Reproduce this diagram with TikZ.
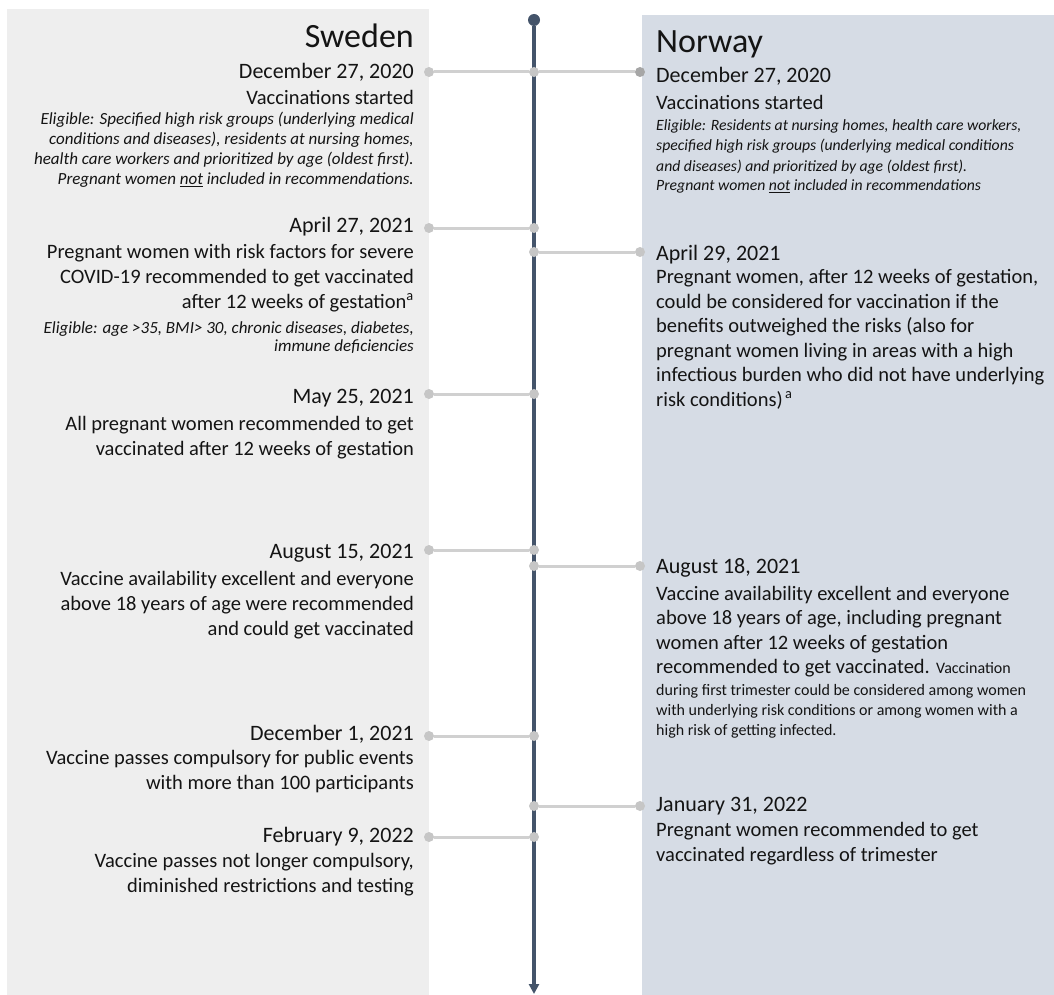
\documentclass[tikz,border=0pt]{standalone}
\usepackage{fontspec}
\setmainfont{Carlito}
\usetikzlibrary{arrows.meta}

\definecolor{swebg}{HTML}{EEEEEE}
\definecolor{norbg}{HTML}{D6DCE5}
\definecolor{lineblue}{HTML}{44546A}
\definecolor{link}{HTML}{D0D0D0}
\definecolor{linkdot}{HTML}{C6C6C6}
\definecolor{firstlink}{HTML}{A6A6A6}
\definecolor{ink}{HTML}{141414}

\newcommand{\titlesize}{\fontsize{34}{40}\selectfont}
\newcommand{\datesize}{\fontsize{22}{26}\selectfont}
\newcommand{\bodysize}{\fontsize{20.5}{25}\selectfont}
\newcommand{\tightbody}{\fontsize{20.5}{24.5}\selectfont}
\newcommand{\swenote}{\fontsize{17}{20}\selectfont\itshape}
\newcommand{\swenotetight}{\fontsize{17}{18}\selectfont\itshape}
\newcommand{\nornote}{\fontsize{15.7}{20}\selectfont\itshape}
\newcommand{\smallnote}{\fontsize{16}{20}\selectfont}

\tikzset{
  tldot/.style={circle,fill=linkdot,inner sep=0pt,minimum size=10pt},
  swe/.style={anchor=base east,align=right,inner sep=0pt,text=ink},
  nor/.style={anchor=base west,align=left,inner sep=0pt,text=ink},
  link/.style={draw=link,line width=3pt},
}

\begin{document}
\begin{tikzpicture}[x=1pt,y=-1pt]

        \useasboundingbox (0,0) rectangle (1054,995);

        % panels
        \fill[swebg] (7,9) rectangle (429,995);
        \fill[norbg] (642,15) rectangle (1054,995);

        % time axis
        \node[circle,fill=lineblue,inner sep=0pt,minimum size=12pt] (top) at (534,20) {};
        \coordinate (bottom) at (534,994);
        \draw[lineblue,line width=3.5pt,-{Triangle[length=10pt,width=10pt]}] (top) -- (bottom);

        \begin{scope}[every node/.style={tldot}]
          \node (s1) at (429,72)  {};
          \node (s2) at (429,228) {};
          \node (s3) at (429,394) {};
          \node (s4) at (429,550) {};
          \node (s5) at (429,736) {};
          \node (s6) at (429,837) {};
          \node (t1) at (534,72)  {};
          \node (t2) at (534,228) {};
          \node (t3) at (534,394) {};
          \node (t4) at (534,550) {};
          \node (t5) at (534,736) {};
          \node (t6) at (534,837) {};
          \node (u2) at (534,252) {};
          \node (u3) at (534,566) {};
          \node (u4) at (534,806) {};
          \node[fill=firstlink] (n1) at (640,72) {};
          \node (n2) at (640,252) {};
          \node (n3) at (640,566) {};
          \node (n4) at (640,806) {};
        \end{scope}

        \begin{scope}[every path/.style={link}]
          \path (s1) edge (t1);
          \path (s2) edge (t2);
          \path (s3) edge (t3);
          \path (s4) edge (t4);
          \path (s5) edge (t5);
          \path (s6) edge (t6);
          \path[draw=firstlink] (t1) edge (n1);
          \path (u2) edge (n2);
          \path (u3) edge (n3);
          \path (u4) edge (n4);
        \end{scope}

        % Sweden (multi-line texts sit on the baseline of their last line)
        \node[swe,font=\titlesize] (sweden) at (414,48) {Sweden};
        \node[swe,font=\datesize] (sdate1) at (414,79) {December 27, 2020};
        \node[swe,font=\bodysize] (stext1) at (414,105) {Vaccinations started};
        \node[swe,font=\swenote] (snote1) at (414,185) {Eligible: Specified high risk groups (underlying medical\\
          conditions and diseases), residents at nursing homes,\\
          health care workers and prioritized by age (oldest first).\\
          Pregnant women \underline{not} included in recommendations.};
        \node[swe,font=\datesize] (sdate2) at (414,233) {April 27, 2021};
        \node[swe,font=\bodysize] (stext2) at (414,308) {Pregnant women with risk factors for severe\\
          COVID-19 recommended to get vaccinated\\
          after 12 weeks of gestation\textsuperscript{a}};
        \node[swe,font=\swenotetight] (snote2) at (414,351) {Eligible: age >35, BMI> 30, chronic diseases, diabetes,\\
          immune deficiencies};
        \node[swe,font=\datesize] (sdate3) at (414,403) {May 25, 2021};
        \node[swe,font=\bodysize] (stext3) at (414,455) {All pregnant women recommended to get\\
          vaccinated after 12 weeks of gestation};
        \node[swe,font=\datesize] (sdate4) at (414,558) {August 15, 2021};
        \node[swe,font=\bodysize] (stext4) at (414,635) {Vaccine availability excellent and everyone\\
          above 18 years of age were recommended\\
          and could get vaccinated};
        \node[swe,font=\datesize] (sdate5) at (414,740) {December 1, 2021};
        \node[swe,font=\bodysize] (stext5) at (414,789) {Vaccine passes compulsory for public events\\
          with more than 100 participants};
        \node[swe,font=\datesize] (sdate6) at (414,842) {February 9, 2022};
        \node[swe,font=\bodysize] (stext6) at (414,892) {Vaccine passes not longer compulsory,\\
          diminished restrictions and testing};

        % Norway
        \node[nor,font=\titlesize] (norway) at (656,53) {Norway};
        \node[nor,font=\datesize] (ndate1) at (656,83) {December 27, 2020};
        \node[nor,font=\bodysize] (ntext1) at (656,110) {Vaccinations started};
        \node[nor,font=\nornote] (nnote1) at (656,191) {Eligible: Residents at nursing homes, health care workers,\\
          specified high risk groups (underlying medical conditions\\
          and diseases) and prioritized by age (oldest first).\\
          Pregnant women \underline{not} included in recommendations};
        \node[nor,font=\datesize] (ndate2) at (656,260) {April 29, 2021};
        \node[nor,font=\tightbody] (ntext2) at (656,406) {Pregnant women, after 12 weeks of gestation,\\
          could be considered for vaccination if the\\
          benefits outweighed the risks (also for\\
          pregnant women living in areas with a high\\
          infectious burden who did not have underlying\\
          risk conditions)\textsuperscript{\,a}};
        \node[nor,font=\datesize] (ndate3) at (656,573) {August 18, 2021};
        \node[nor,font=\tightbody] (ntext3) at (656,673.5) {Vaccine availability excellent and everyone\\
          above 18 years of age, including pregnant\\
          women after 12 weeks of gestation\\
          recommended to get vaccinated. {\fontsize{16}{24.5}\selectfont Vaccination}};
        \node[nor,font=\smallnote] (nnote3) at (656,735) {during first trimester could be considered among women\\
          with underlying risk conditions or among women with a\\
          high risk of getting infected.};
        \node[nor,font=\datesize] (ndate4) at (656,811) {January 31, 2022};
        \node[nor,font=\bodysize] (ntext4) at (656,861) {Pregnant women recommended to get\\
          vaccinated regardless of trimester};

\end{tikzpicture}
\end{document}
